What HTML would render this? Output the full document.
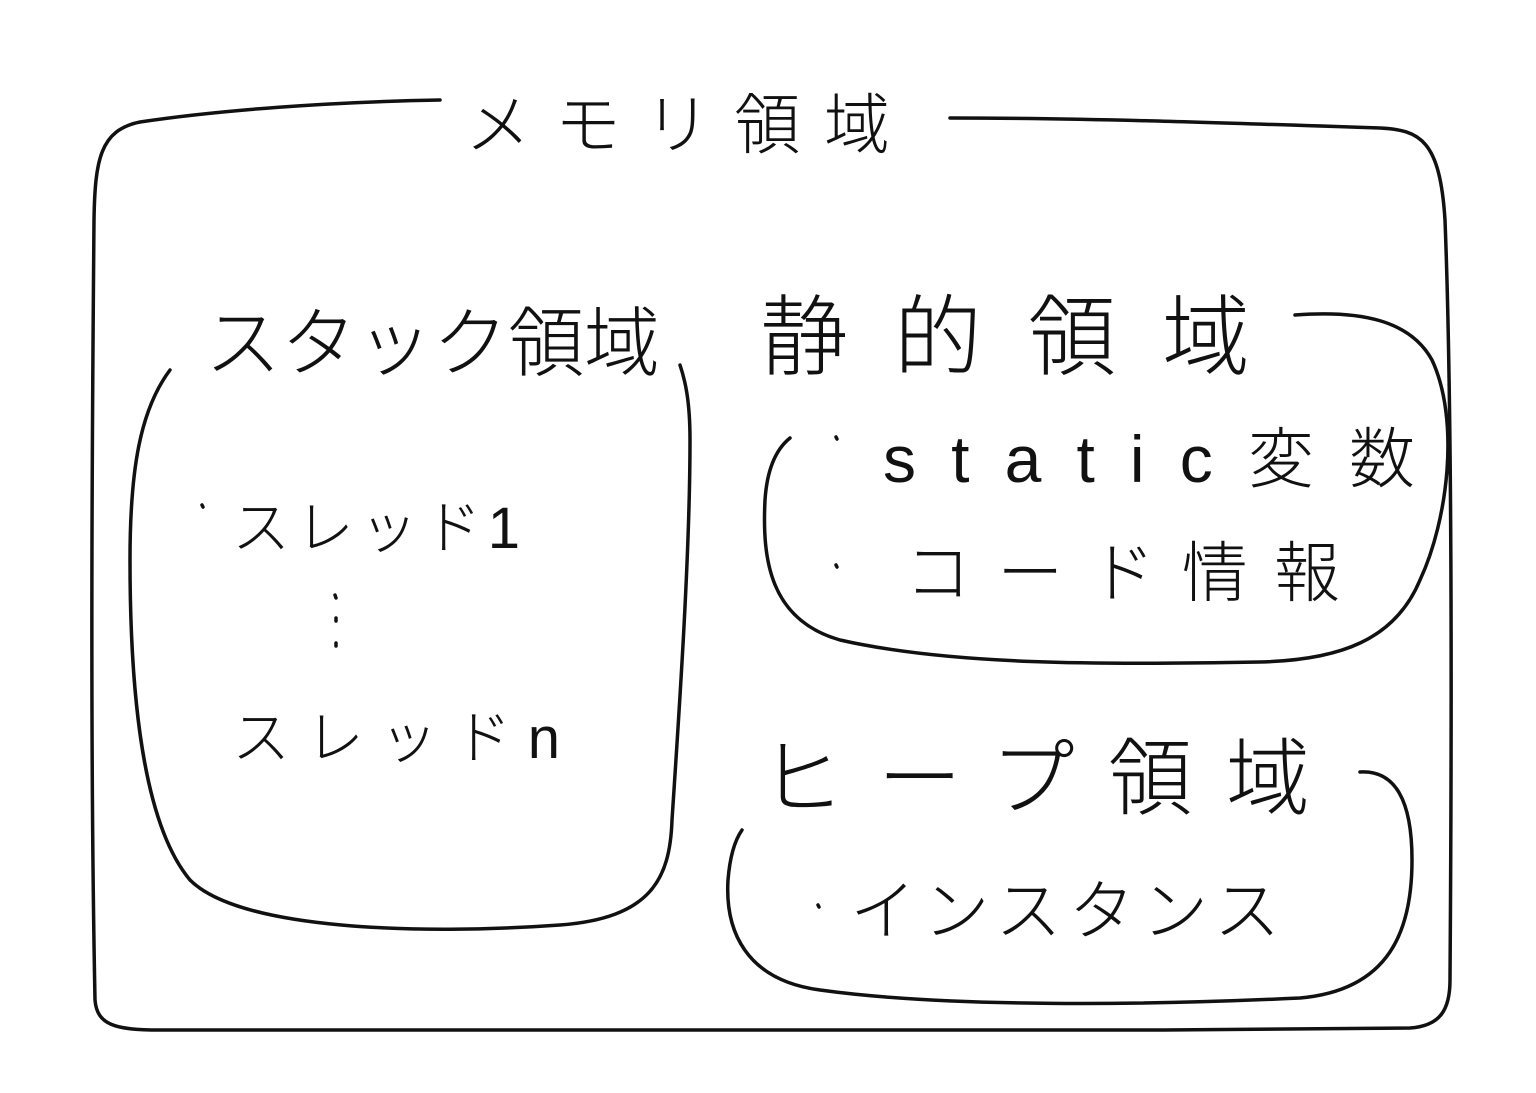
<!DOCTYPE html>
<html><head><meta charset="utf-8"><style>
html,body{margin:0;padding:0;background:#fff;}
svg{display:block}
text{font-family:"Liberation Sans","Noto Sans CJK JP",sans-serif;fill:#111;font-weight:300}
</style></head><body>
<svg width="1536" height="1093" viewBox="0 0 1536 1093" xmlns="http://www.w3.org/2000/svg">
<g fill="none" stroke="#111" stroke-width="3.5" stroke-linecap="round" stroke-linejoin="round">
<path d="M440 100 C330 102 220 110 140 122 C100 130 95 160 94 220 C92 450 90 750 95 1000 C97 1025 115 1030 160 1030 C600 1032 1000 1032 1410 1028 C1440 1026 1450 1010 1450 980 C1452 700 1452 400 1445 220 C1440 140 1420 130 1380 128 C1200 122 1080 118 950 118"/>
<path d="M170 370 C140 410 130 470 130 560 C130 680 140 820 190 880 C240 930 420 935 560 925 C650 918 670 880 672 820 C680 700 690 550 690 440 C690 400 685 380 680 365"/>
<path d="M1295 315 C1360 310 1410 320 1432 360 C1460 420 1448 520 1420 580 C1395 640 1340 660 1260 662 C1100 665 950 665 840 640 C770 620 762 560 765 500 C767 470 775 450 790 438"/>
<path d="M1360 772 C1395 770 1412 800 1412 860 C1412 930 1390 990 1300 998 C1150 1005 950 1008 820 990 C745 980 725 930 728 880 C730 855 735 840 742 830"/>
<path d="M335 595 L336 598 M336 618 L336 621 M336 643 L336 646"/>
<path d="M202 505 L203 507 M836 437 L837 439 M836 565 L837 567 M818 905 L819 907"/>
</g>
<text x="465" y="148" font-size="66" textLength="425" lengthAdjust="spacing">メモリ領域</text>
<text x="205" y="370" font-size="76" textLength="455" lengthAdjust="spacing">スタック領域</text>
<text x="760" y="368" font-size="88" textLength="490" lengthAdjust="spacing">静的領域</text>
<text x="232" y="548" font-size="58" textLength="288" lengthAdjust="spacing">スレッド1</text>
<text x="232" y="758" font-size="58" textLength="328" lengthAdjust="spacing">スレッドn</text>
<text x="883" y="482" font-size="66" textLength="532" lengthAdjust="spacing">static変数</text>
<text x="905" y="596" font-size="66" textLength="435" lengthAdjust="spacing">コード情報</text>
<text x="760" y="808" font-size="84" textLength="550" lengthAdjust="spacing">ヒープ領域</text>
<text x="850" y="934" font-size="66" textLength="430" lengthAdjust="spacing">インスタンス</text>
</svg>
</body></html>
